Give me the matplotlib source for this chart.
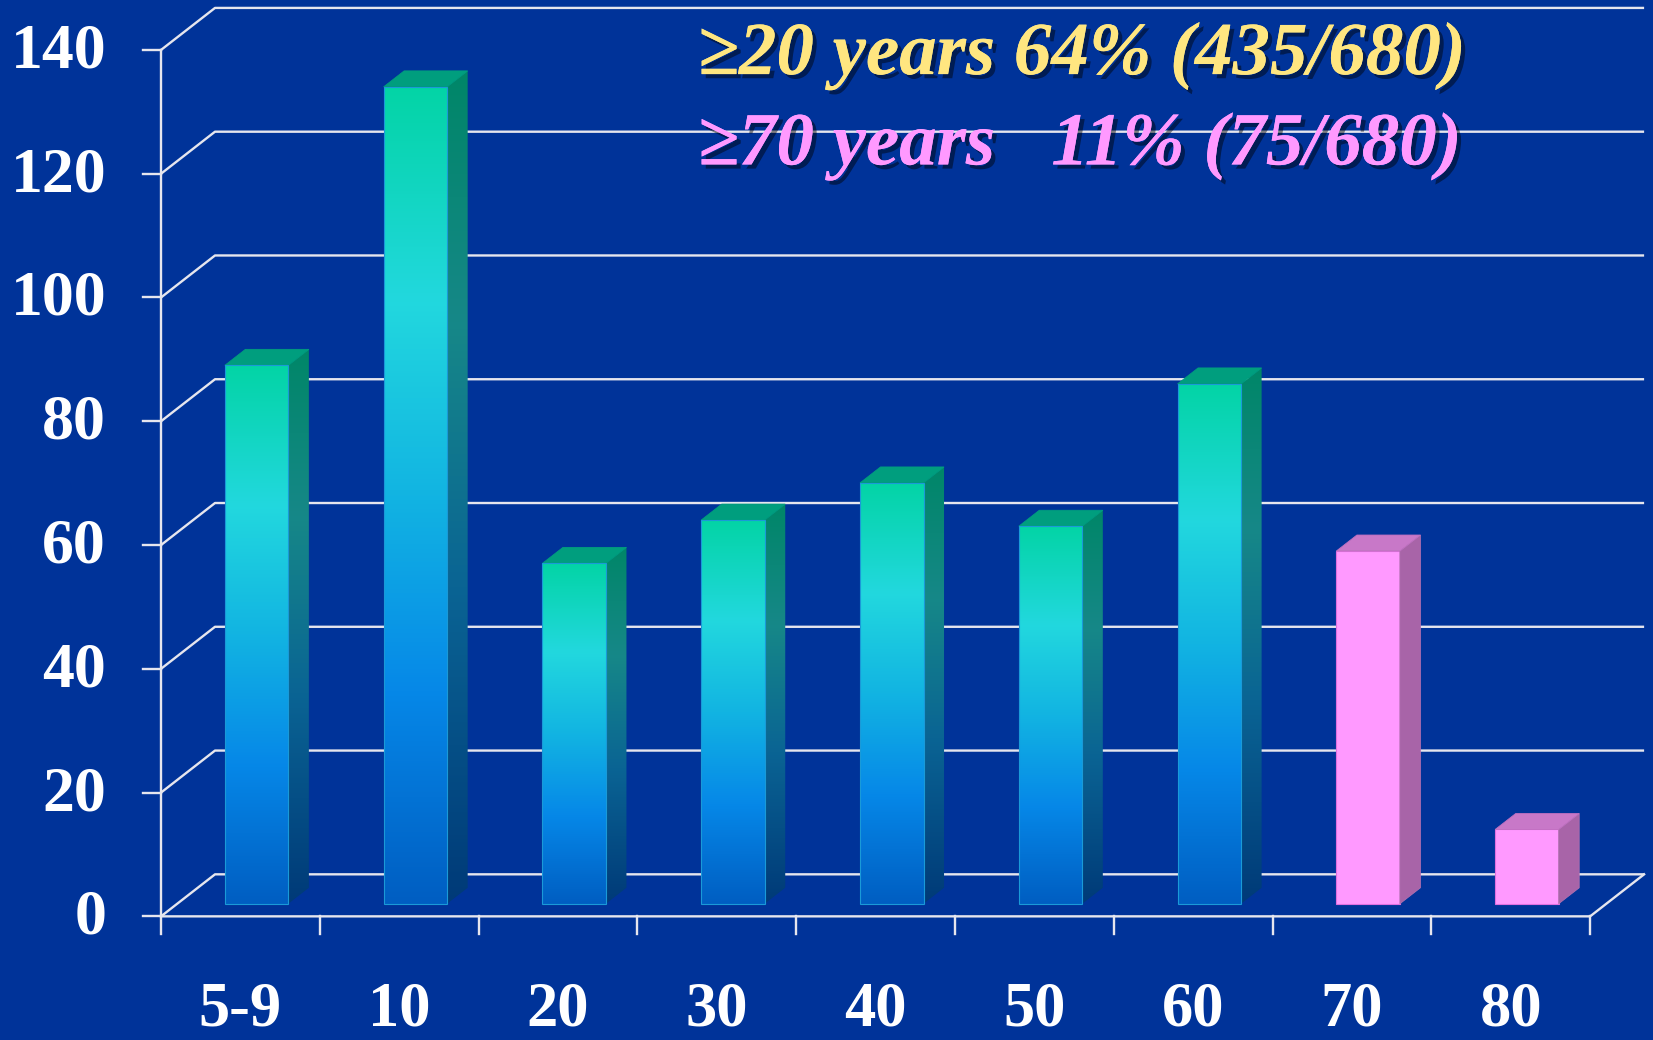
import numpy as np
import matplotlib
matplotlib.use("Agg")
import matplotlib.pyplot as plt
from matplotlib.patches import Polygon
from matplotlib.colors import LinearSegmentedColormap
import matplotlib.patheffects as pe

# ---- data -------------------------------------------------------------
categories = ["5-9", "10", "20", "30", "40", "50", "60", "70", "80"]
counts = [87, 132, 55, 62, 68, 61, 84, 57, 12]
highlight = [False, False, False, False, False, False, False, True, True]
y_ticks = [0, 20, 40, 60, 80, 100, 120, 140]
note_lines = ["\u226520 years 64% (435/680)", "\u226570 years   11% (75/680)"]

# ---- style ------------------------------------------------------------
BG = "#003399"
GRID = "#E6E6EE"
SERIF = ["Liberation Serif", "DejaVu Serif"]

front_cmap = LinearSegmentedColormap.from_list(
    "front", [(0.0, "#03D4A6"), (0.26, "#22D8DE"), (0.50, "#12B4E2"),
              (0.74, "#0688E8"), (1.0, "#005EC2")])
side_cmap = LinearSegmentedColormap.from_list(
    "side", [(0.0, "#008668"), (0.30, "#168888"), (0.62, "#0A6494"),
             (1.0, "#003A78")])
TOP_COLOR = "#009E7E"
PINK_FRONT = "#FF99FF"
PINK_SIDE = "#A864A8"
PINK_TOP = "#C878C8"

# 3-D projection of the box: offset of the back wall in data units
DX, DY = 0.340, 6.79
F0, F1 = 0.30, 0.68          # bar depth range as fraction of box depth
HALF_W = 0.20                # half width of a bar in slot units
n = len(categories)

fig = plt.figure(figsize=(16.53, 10.40), dpi=100, facecolor=BG)
ax = fig.add_axes([0, 0, 1, 1])
ax.set_facecolor(BG)
ax.axis("off")

# ---- box: walls, grid and axes ----------------------------------------
lw = 1.7
for v in y_ticks:
    ax.plot([0, DX, n + DX], [v, v + DY, v + DY], color=GRID, lw=lw,
            zorder=1, solid_capstyle="butt")
# floor front edge and right edge
ax.plot([0, n, n + DX], [0, 0, DY], color=GRID, lw=lw, zorder=6)
# front vertical axis
ax.plot([0, 0], [0, y_ticks[-1]], color=GRID, lw=lw, zorder=6)
# tick marks
for v in y_ticks:
    ax.plot([-0.113, 0], [v, v], color=GRID, lw=lw, zorder=6)
for i in range(n + 1):
    ax.plot([i, i], [0, -2.9], color=GRID, lw=lw, zorder=6)

# ---- bars ---------------------------------------------------------------
grad = np.linspace(0, 1, 256).reshape(-1, 1)
for i, (val, hl) in enumerate(zip(counts, highlight)):
    cx = i + 0.5 + F0 * DX
    x0, x1 = cx - HALF_W, cx + HALF_W
    yb = F0 * DY
    yt = yb + val
    ddx, ddy = (F1 - F0) * DX, (F1 - F0) * DY
    side = [(x1, yb), (x1 + ddx, yb + ddy), (x1 + ddx, yt + ddy), (x1, yt)]
    top = [(x0, yt), (x1, yt), (x1 + ddx, yt + ddy), (x0 + ddx, yt + ddy)]
    z = 3 + i * 0.01
    if hl:
        ax.add_patch(Polygon([(x0, yb), (x1, yb), (x1, yt), (x0, yt)],
                             closed=True, facecolor=PINK_FRONT,
                             edgecolor="#E070E0", lw=0.8, zorder=z))
        ax.add_patch(Polygon(side, closed=True, facecolor=PINK_SIDE,
                             edgecolor="#B070B0", lw=0.6, zorder=z))
        ax.add_patch(Polygon(top, closed=True, facecolor=PINK_TOP,
                             edgecolor="#C070C0", lw=0.6, zorder=z))
    else:
        ax.imshow(front_cmap(grad)[:, :, :3], extent=[x0, x1, yb, yt],
                  aspect="auto", interpolation="bilinear", zorder=z,
                  origin="upper")
        ax.add_patch(Polygon([(x0, yb), (x1, yb), (x1, yt), (x0, yt)],
                             closed=True, fill=False, edgecolor="#1A9AD8",
                             lw=0.8, zorder=z + 0.001))
        sp = Polygon(side, closed=True, facecolor="none", edgecolor="none",
                     zorder=z)
        ax.add_patch(sp)
        im = ax.imshow(side_cmap(grad)[:, :, :3],
                       extent=[x1, x1 + ddx, yb, yt + ddy], aspect="auto",
                       interpolation="bilinear", zorder=z, origin="upper")
        im.set_clip_path(sp)
        ax.add_patch(Polygon(top, closed=True, facecolor=TOP_COLOR,
                             edgecolor=TOP_COLOR, lw=0.6, zorder=z))

# ---- tick labels -------------------------------------------------------------
for v in y_ticks:
    ax.text(-0.346, v - 0.4, str(v), ha="right", va="center", fontsize=46,
            fontweight="bold", family=SERIF, color="white", zorder=7)
for i, c in enumerate(categories):
    ax.text(i + 0.5, -15.2, c, ha="center", va="center", fontsize=45,
            fontweight="bold", family=SERIF, color="white", zorder=7)

# ---- annotation ----------------------------------------------------------
shadow = [pe.withSimplePatchShadow(offset=(3, -3), shadow_rgbFace="black",
                                   alpha=0.45), pe.Normal()]
for line, col, yb in zip(note_lines, ["#FFE680", "#FF99FF"], [136.1, 121.5]):
    ax.text(3.38, yb, line, ha="left", va="baseline", fontsize=54,
            fontweight="bold", fontstyle="italic", family=SERIF, color=col,
            zorder=8, path_effects=shadow)

# data limits chosen so the box fills the canvas
ax.set_xlim(-1.014, 9.396)
ax.set_ylim(-19.98, 148.07)

fig.savefig("out.png", dpi=100, facecolor=BG)
